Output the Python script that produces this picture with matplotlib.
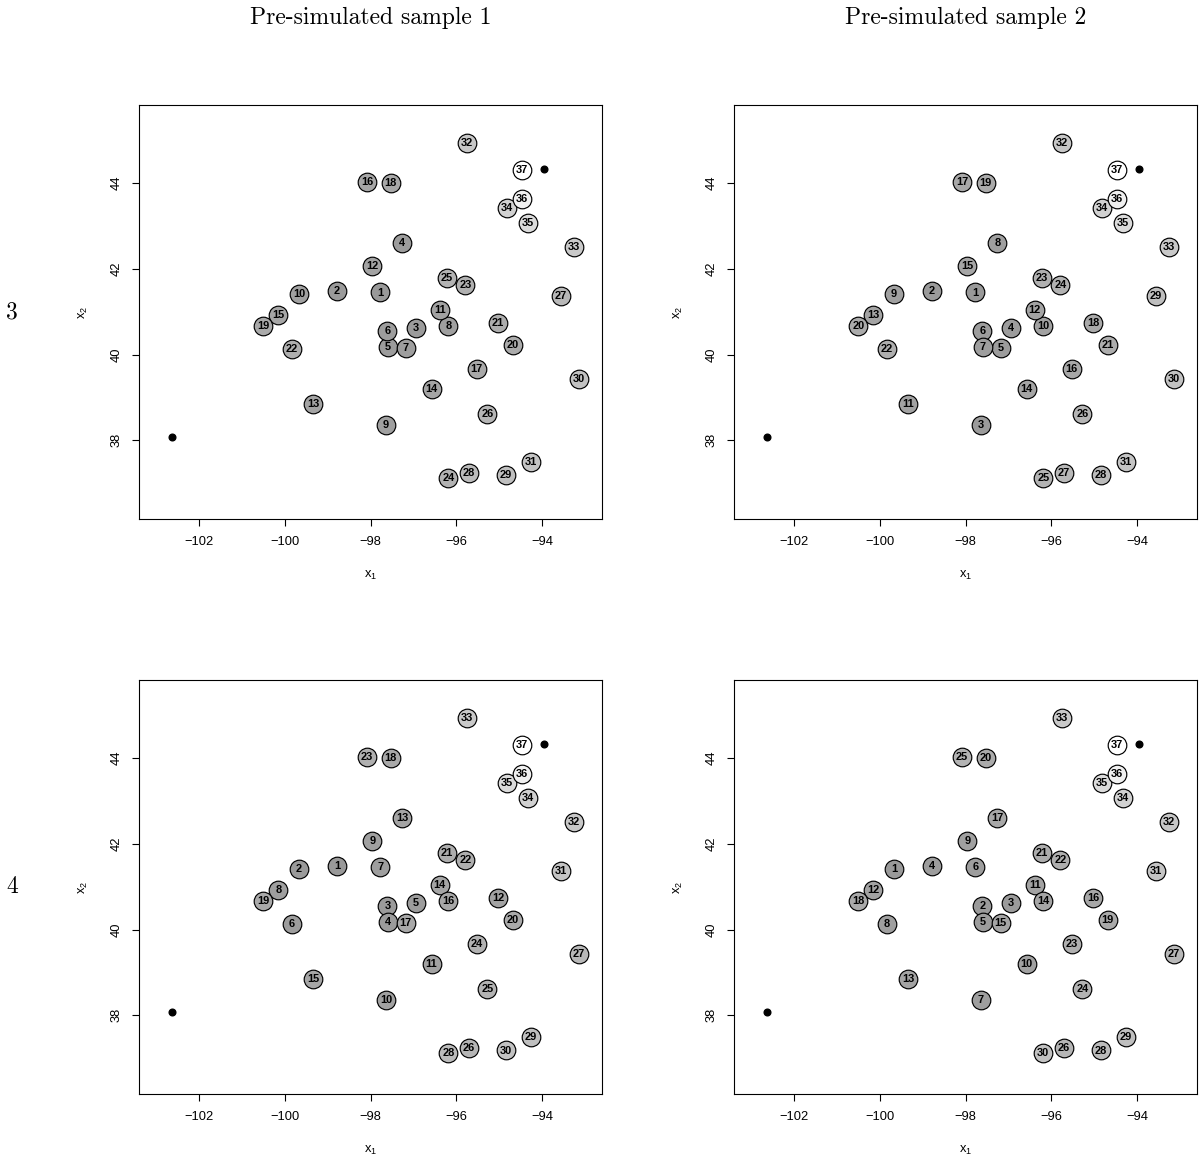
import numpy as np
import matplotlib
matplotlib.use("Agg")
import matplotlib.pyplot as plt

# ---------------- data ----------------
# site locations, ordered as labelled in panel "3 / sample 1"
loc_x = [-97.77, -98.78, -96.95, -97.26, -97.60, -97.61, -97.18, -96.19, -97.64, -99.67,
         -96.39, -97.96, -99.34, -96.58, -100.15, -98.08, -95.53, -97.53, -100.50, -94.69,
         -95.03, -99.83, -95.79, -96.19, -96.23, -95.28, -93.57, -95.71, -94.85, -93.15,
         -94.27, -95.76, -93.26, -94.83, -94.33, -94.47, -94.48]
loc_y = [41.45, 41.49, 40.63, 42.60, 40.19, 40.56, 40.15, 40.68, 38.37, 41.41,
         41.05, 42.08, 38.86, 39.20, 40.93, 44.04, 39.67, 44.00, 40.68, 40.23,
         40.74, 40.14, 41.63, 37.12, 41.79, 38.62, 41.36, 37.24, 37.18, 39.44,
         37.50, 44.93, 42.52, 43.43, 43.08, 43.63, 44.31]

# labels shown at each location in each panel
labels_r3_s1 = list(range(1, 38))
labels_r3_s2 = [1, 2, 4, 8, 7, 6, 5, 10, 3, 9, 12, 15, 11, 14, 13, 17, 16, 19, 20, 21,
                18, 22, 24, 25, 23, 26, 29, 27, 28, 30, 31, 32, 33, 34, 35, 36, 37]
labels_r4_s1 = [7, 1, 5, 13, 4, 3, 17, 16, 10, 2, 14, 9, 15, 11, 8, 23, 24, 18, 19, 20,
                12, 6, 22, 28, 21, 25, 31, 26, 30, 27, 29, 33, 32, 35, 34, 36, 37]
labels_r4_s2 = [6, 4, 3, 17, 5, 2, 15, 14, 7, 1, 11, 9, 13, 10, 12, 25, 23, 20, 18, 19,
                16, 8, 22, 30, 21, 24, 31, 26, 28, 27, 29, 33, 32, 35, 34, 36, 37]

# reference points (black dots)
ref_x = [-102.64, -93.96]
ref_y = [38.08, 44.33]

col_titles = ["Pre-simulated sample 1", "Pre-simulated sample 2"]
row_titles = ["3", "4"]
xticks = [-102, -100, -98, -96, -94]
yticks = [38, 40, 42, 44]

# ---------------- style ----------------
W, H = 1199, 1160
fig = plt.figure(figsize=(W / 100, H / 100), dpi=100)
plt.rcParams['font.family'] = ['Liberation Sans', 'DejaVu Sans']
plt.rcParams['mathtext.fontset'] = 'custom'
plt.rcParams['mathtext.rm'] = 'Liberation Sans'
plt.rcParams['mathtext.it'] = 'Liberation Sans'

# fill grey by label rank
g_anchor_k = [1, 10, 20, 26, 30, 33, 34, 35, 36, 37]
g_anchor_v = [0.60, 0.63, 0.67, 0.71, 0.76, 0.79, 0.82, 0.86, 0.94, 1.0]


def grey(k):
    v = float(np.interp(k, g_anchor_k, g_anchor_v))
    return (v, v, v)


xlim = (-103.398, -92.60)
ylim = (36.165, 45.825)

box_w = (602.3 - 139) / W
box_h = (519 - 105) / H
lefts = [139 / W, 734 / W]
bottoms = [1 - 519 / H, 1 - 1094 / H]

panels = [[labels_r3_s1, labels_r3_s2], [labels_r4_s1, labels_r4_s2]]

for r in range(2):
    for c in range(2):
        ax = fig.add_axes([lefts[c], bottoms[r], box_w, box_h])
        labs = panels[r][c]
        order = np.argsort(labs)
        z = 3
        for i in order:
            k = labs[i]
            ax.plot([loc_x[i]], [loc_y[i]], 'o', ms=13.4, mfc=grey(k), mec='black',
                    mew=0.85, zorder=z)
            ax.text(loc_x[i], loc_y[i], str(k), ha='center', va='center',
                    fontsize=7.9, fontweight='bold', zorder=z + 1)
            z += 2
        ax.plot(ref_x, ref_y, 'o', ms=4.8, color='black', zorder=z)
        ax.set_xlim(*xlim)
        ax.set_ylim(*ylim)
        ax.set_xticks(xticks)
        ax.set_yticks(yticks)
        ax.set_xticklabels([f"\u2212{abs(t)}" for t in xticks])
        ax.set_yticklabels([str(t) for t in yticks], rotation=90, va='center')
        ax.tick_params(axis='both', length=5, width=0.8, labelsize=9.3, direction='out')
        ax.tick_params(axis='x', pad=7.5)
        ax.tick_params(axis='y', pad=6.5)
        for s in ax.spines.values():
            s.set_linewidth(0.8)
        ax.text(0.5, -(575 - 519) / 414, r'$\mathregular{x_1}$', transform=ax.transAxes,
                ha='center', va='center', fontsize=9.3)
        ax.text(-(139 - 83) / 463.3, 0.5, r'$\mathregular{x_2}$', transform=ax.transAxes,
                ha='center', va='center', fontsize=9.3, rotation=90)

for c in range(2):
    xc = (lefts[c] + box_w / 2)
    fig.text(xc, 1 - 18 / H, col_titles[c], ha='center', va='center', fontsize=17,
             family='cmr10')
for r in range(2):
    yc = bottoms[r] + box_h / 2
    fig.text(12 / W, yc, row_titles[r], ha='center', va='center', fontsize=17,
             family='cmr10')

fig.savefig("out.png", dpi=100)
